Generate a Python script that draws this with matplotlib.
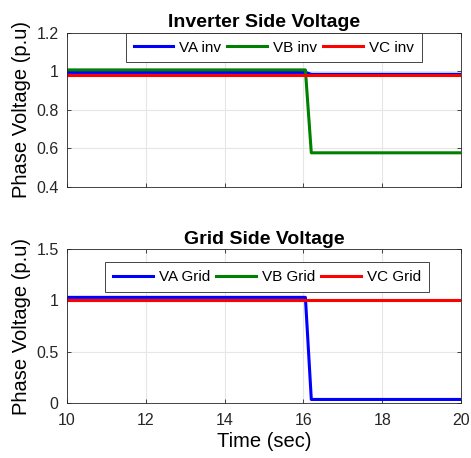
import numpy as np
import matplotlib
matplotlib.use('Agg')
import matplotlib.pyplot as plt

plt.rcParams['font.family'] = ['Liberation Sans', 'DejaVu Sans']

# time breakpoints of the fault event (sec)
t = [10, 16.05, 16.2, 20]

# inverter side phase voltages (p.u)
va_inv = [0.995, 0.995, 0.985, 0.985]
vb_inv = [1.008, 1.008, 0.577, 0.577]
vc_inv = [0.982, 0.982, 0.982, 0.982]

# grid side phase voltages (p.u)
va_grid = [1.03, 1.03, 0.035, 0.035]
vb_grid = [1.0, 1.0, 1.0, 1.0]
vc_grid = [1.0, 1.0, 1.0, 1.0]

xticks = [10, 12, 14, 16, 18, 20]
yticks_inv = [0.4, 0.6, 0.8, 1, 1.2]
yticks_grid = [0, 0.5, 1, 1.5]

fig = plt.figure(figsize=(4.71, 4.58), dpi=100)
ax1 = fig.add_axes([0.142, 0.592, 0.837, 0.336])
ax2 = fig.add_axes([0.142, 0.120, 0.837, 0.336])

def style_axes(ax, yticks, title):
    ax.set_xlim(10, 20)
    ax.set_ylim(yticks[0], yticks[-1])
    ax.set_xticks(xticks)
    ax.set_yticks(yticks)
    ax.set_yticklabels([f'{v:g}' for v in yticks])
    ax.grid(True, color='#e6e6e6', linewidth=0.8)
    ax.set_axisbelow(True)
    for s in ax.spines.values():
        s.set_color('#262626')
        s.set_linewidth(0.6)
    ax.tick_params(direction='in', length=3, width=0.6, labelsize=11.5,
                   colors='#262626', top=True, right=True)
    ax.tick_params(axis='y', pad=6)
    ax.tick_params(axis='x', pad=7)
    ax.set_title(title, fontsize=14, fontweight='bold', pad=4)
    ax.set_ylabel('Phase Voltage (p.u)', fontsize=14.5, labelpad=4)

def add_legend(ax, anchor_x, anchor_y):
    leg = ax.legend(loc='upper center', bbox_to_anchor=(anchor_x, anchor_y), ncol=3,
                    fontsize=11, fancybox=False, edgecolor='#262626', framealpha=1,
                    handlelength=2.6, columnspacing=0.4, handletextpad=0.4,
                    borderpad=0.5, borderaxespad=0.0)
    leg.get_frame().set_linewidth(0.6)
    return leg

ax1.plot(t, va_inv, color='blue', lw=2.2, label='VA inv')
ax1.plot(t, vb_inv, color='#008000', lw=2.2, label='VB inv')
ax1.plot(t, vc_inv, color='red', lw=2.2, label='VC inv')
style_axes(ax1, yticks_inv, 'Inverter Side Voltage')
ax1.tick_params(labelbottom=False)
add_legend(ax1, 0.525, 1.0)

ax2.plot(t, va_grid, color='blue', lw=2.2, label='VA Grid')
ax2.plot(t, vb_grid, color='#008000', lw=2.2, label='VB Grid')
ax2.plot(t, vc_grid, color='red', lw=2.2, label='VC Grid')
style_axes(ax2, yticks_grid, 'Grid Side Voltage')
ax2.set_xlabel('Time (sec)', fontsize=14.5, labelpad=3)
add_legend(ax2, 0.508, 0.915)

fig.savefig('out.png', dpi=100)
